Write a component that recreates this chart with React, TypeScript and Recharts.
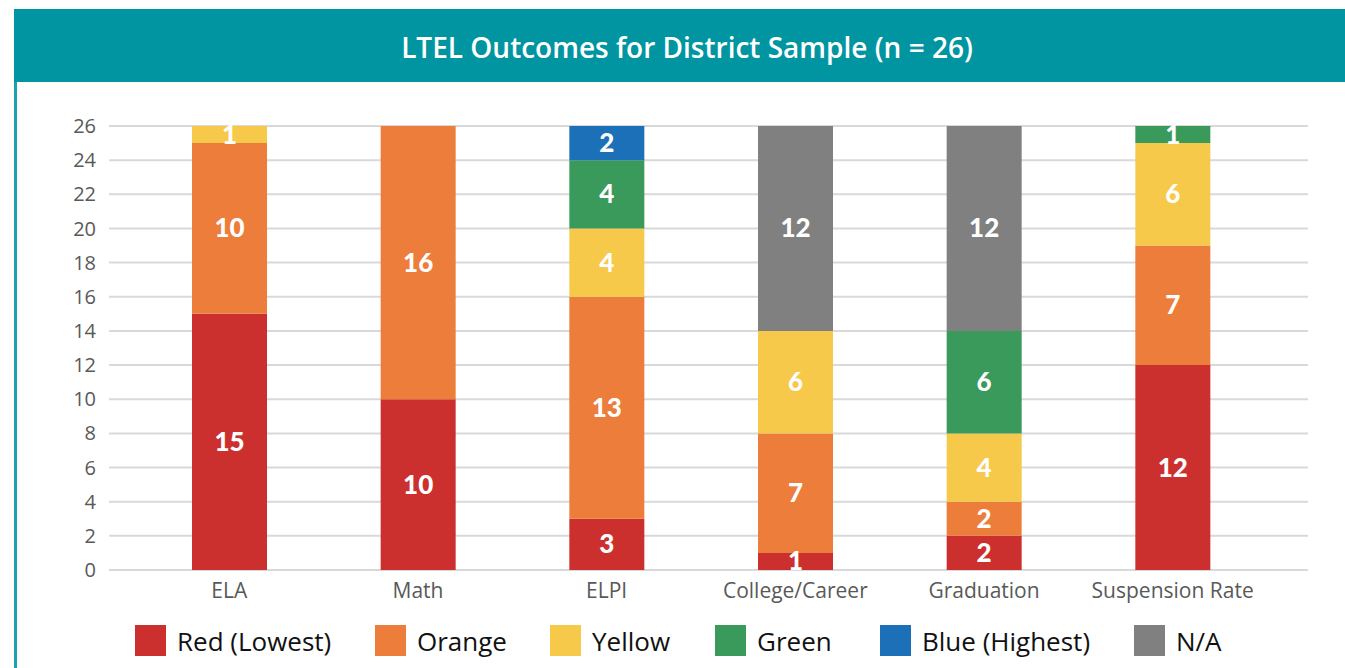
import React from "react";
import { BarChart, Bar, XAxis, YAxis, CartesianGrid, LabelList } from "recharts";

const categories = ["ELA", "Math", "ELPI", "College/Career", "Graduation", "Suspension Rate"];
const redValues = [15, 10, 3, 1, 2, 12];
const orangeValues = [10, 16, 13, 7, 2, 7];
const yellowValues = [1, 0, 4, 6, 4, 6];
const greenValues = [0, 0, 4, 0, 6, 1];
const blueValues = [0, 0, 2, 0, 0, 0];
const naValues = [0, 0, 0, 12, 12, 0];
const yTicks = [0, 2, 4, 6, 8, 10, 12, 14, 16, 18, 20, 22, 24, 26];

const series = [
  { key: "red", name: "Red (Lowest)", color: "#CC302E", values: redValues },
  { key: "orange", name: "Orange", color: "#ED7D3A", values: orangeValues },
  { key: "yellow", name: "Yellow", color: "#F6C94A", values: yellowValues },
  { key: "green", name: "Green", color: "#3A9A5C", values: greenValues },
  { key: "blue", name: "Blue (Highest)", color: "#1B70B8", values: blueValues },
  { key: "na", name: "N/A", color: "#808080", values: naValues },
];

const data = categories.map((name, i) => {
  const row: any = { name };
  series.forEach((s) => {
    row[s.key] = s.values[i];
  });
  return row;
});

const FONT = "'Open Sans', Lato, sans-serif";
const NUM_FONT = "Lato, 'Open Sans', sans-serif";

const SegmentLabel = (props: any) => {
  const { x, y, width, height, value } = props;
  if (!value) return null;
  return (
    <text
      x={x + width / 2}
      y={y + height / 2}
      dy={-1}
      fill="#fff"
      fontSize={26}
      fontWeight={900}
      fontFamily={NUM_FONT}
      textAnchor="middle"
      dominantBaseline="central"
    >
      {value}
    </text>
  );
};

function App() {
  return (
    <div
      style={{
        position: "fixed",
        left: 0,
        top: 0,
        width: 1345,
        height: 668,
        overflow: "hidden",
        background: "#fff",
        fontFamily: FONT,
      }}
    >
      <div
        style={{
          position: "absolute",
          left: 14,
          top: 9,
          width: 1346,
          height: 73,
          background: "#0195A2",
          color: "#fff",
          fontSize: 28,
          fontWeight: 600,
          lineHeight: "76px",
          textAlign: "center",
        }}
      >
        LTEL Outcomes for District Sample (n = 26)
      </div>
      <div
        style={{
          position: "absolute",
          left: 14,
          top: 82,
          width: 3,
          height: 600,
          background: "#1AA3AE",
        }}
      />
      <div style={{ position: "absolute", left: 0, top: 0 }}>
        <BarChart
          width={1345}
          height={668}
          data={data}
          margin={{ top: 126, right: 37, bottom: 68, left: 0 }}
        >
          <CartesianGrid vertical={false} stroke="#D9D9D9" strokeWidth={2} />
          <XAxis
            dataKey="name"
            axisLine={false}
            tickLine={false}
            height={30}
            tickMargin={7}
            padding={{ left: 26, right: 41 }}
            tick={{ fill: "#595959", fontSize: 21, fontFamily: FONT }}
            interval={0}
          />
          <YAxis
            width={109}
            domain={[0, 26]}
            ticks={yTicks}
            axisLine={false}
            tickLine={false}
            tickMargin={7}
            interval={0}
            tick={{ fill: "#595959", fontSize: 20, fontFamily: FONT }}
          />
          {series.map((s) => (
            <Bar
              key={s.key}
              dataKey={s.key}
              name={s.name}
              stackId="a"
              fill={s.color}
              barSize={75}
              isAnimationActive={false}
            >
              <LabelList dataKey={s.key} content={<SegmentLabel />} />
            </Bar>
          ))}
        </BarChart>
      </div>
      <div
        style={{
          position: "absolute",
          left: 0,
          top: 625,
          width: 1345,
          height: 31,
        }}
      >
        {series.map((s, i) => {
          const lefts = [135, 375, 550, 715, 880, 1134];
          return (
            <div
              key={s.key}
              style={{
                position: "absolute",
                left: lefts[i],
                top: 0,
                display: "flex",
                alignItems: "center",
                height: 31,
              }}
            >
              <span
                style={{
                  display: "inline-block",
                  width: 31,
                  height: 31,
                  background: s.color,
                  marginRight: 11,
                }}
              />
              <span style={{ fontSize: 26, color: "#111" }}>{s.name}</span>
            </div>
          );
        })}
      </div>
    </div>
  );
}

export default App;
